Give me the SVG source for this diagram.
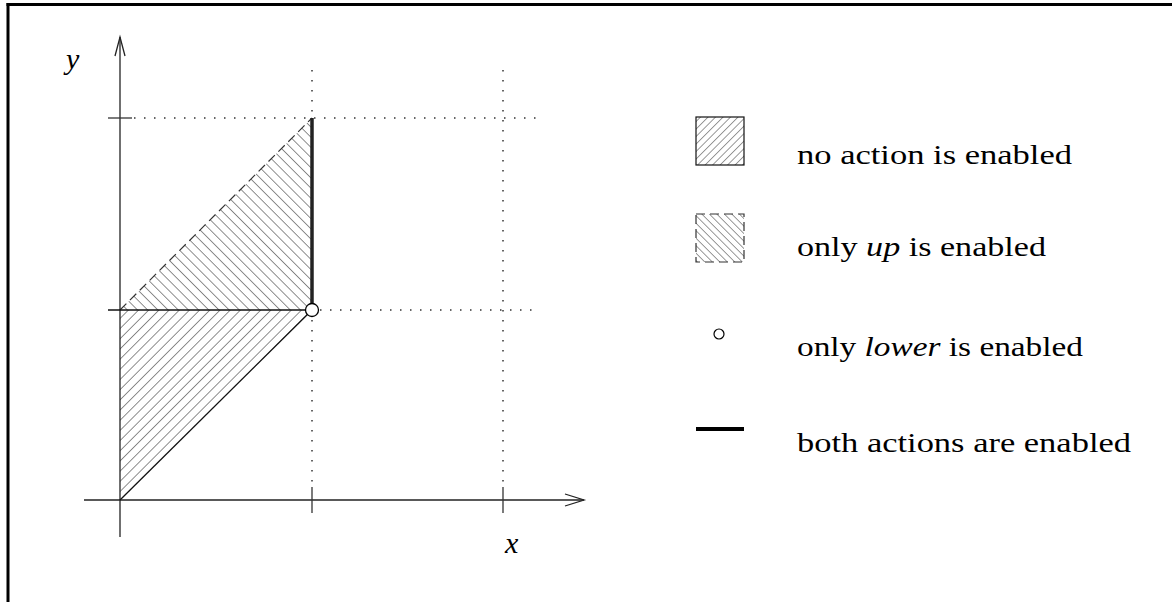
<svg xmlns="http://www.w3.org/2000/svg" width="1172" height="602" viewBox="0 0 1172 602">
  <defs>
    <pattern id="hatchFwd" patternUnits="userSpaceOnUse" width="7.2" height="7.2" patternTransform="rotate(45)">
      <line x1="0" y1="0" x2="0" y2="7.2" stroke="#444" stroke-width="1.2"/>
    </pattern>
    <pattern id="hatchBack" patternUnits="userSpaceOnUse" width="7.2" height="7.2" patternTransform="rotate(-45)">
      <line x1="0" y1="0" x2="0" y2="7.2" stroke="#444" stroke-width="1.2"/>
    </pattern>
    <pattern id="hatchFwdS" patternUnits="userSpaceOnUse" width="5.3" height="5.3" patternTransform="rotate(45)">
      <line x1="0" y1="0" x2="0" y2="5.3" stroke="#333" stroke-width="1"/>
    </pattern>
    <pattern id="hatchBackS" patternUnits="userSpaceOnUse" width="5.3" height="5.3" patternTransform="rotate(-45)">
      <line x1="0" y1="0" x2="0" y2="5.3" stroke="#333" stroke-width="1"/>
    </pattern>
  </defs>
  <style>
    .frame { stroke: #000; stroke-width: 3; fill: none; }
    .axis { stroke: #222; stroke-width: 1.3; fill: none; }
    .tick { stroke: #333; stroke-width: 1.3; }
    .dot { stroke: #333; stroke-width: 1.5; stroke-dasharray: 1.5 8.5; fill: none; }
    .edge { stroke: #111; stroke-width: 1.3; fill: none; }
    .dashedge { stroke: #333; stroke-width: 1.2; stroke-dasharray: 9 5; }
    .lbl { font-family: "Liberation Serif", "Tinos", "Noto Serif", "FreeSerif", "Times New Roman", "Times", serif; font-size: 27px; fill: #000; }
    .math { font-family: "Liberation Serif", "Tinos", "Noto Serif", "FreeSerif", "Times New Roman", "Times", serif; font-style: italic; font-size: 30px; fill: #000; }
  </style>
  <rect width="1172" height="602" fill="#fff"/>
  <g id="frame">
    <line class="frame" x1="6.5" y1="4.5" x2="1172" y2="4.5"/>
    <line class="frame" x1="8" y1="3" x2="8" y2="602"/>
  </g>
  <g id="regions">
    <polygon id="region-none" points="120,500 120,310 312,310" fill="url(#hatchFwd)"/>
    <polygon id="region-up" points="120,310 312,310 312,118" fill="url(#hatchBack)"/>
    <line class="dashedge" x1="120" y1="310" x2="312" y2="118" fill="none"/>
  </g>
  <g id="guides">
    <line class="dot" x1="134" y1="118" x2="540" y2="118"/>
    <line class="dot" x1="320" y1="310" x2="540" y2="310"/>
    <line class="dot" x1="312" y1="70" x2="312" y2="487"/>
    <line class="dot" x1="503" y1="70" x2="503" y2="487"/>
  </g>
  <g id="axes">
    <line class="axis" x1="120" y1="37" x2="120" y2="537"/>
    <polyline class="axis" points="115,56 120,37 125,56"/>
    <line class="axis" x1="84" y1="500" x2="584" y2="500"/>
    <polyline class="axis" points="565,494 584,500 565,506"/>
    <line class="tick" x1="108" y1="118" x2="132" y2="118"/>
    <line class="tick" x1="312" y1="487" x2="312" y2="513"/>
    <line class="tick" x1="503" y1="487" x2="503" y2="513"/>
    <text class="math" x="66" y="69">y</text>
    <text class="math" x="505" y="553">x</text>
  </g>
  <g id="boundaries">
    <line class="edge" x1="108" y1="310" x2="312" y2="310"/>
    <line class="edge" x1="120" y1="500" x2="312" y2="310"/>
    <line x1="312" y1="118" x2="312" y2="306" stroke="#222" stroke-width="3.5"/>
    <circle cx="312" cy="310" r="6.5" fill="#fff" stroke="#000" stroke-width="1.3"/>
  </g>
  <g id="legend-none">
    <rect x="696" y="117" width="48" height="48" fill="url(#hatchFwdS)" stroke="#111" stroke-width="1.2"/>
    <text class="lbl" x="797" y="164" textLength="275" lengthAdjust="spacingAndGlyphs">no action is enabled</text>
  </g>
  <g id="legend-up">
    <rect x="696" y="214" width="48" height="48" fill="url(#hatchBackS)" class="dashedge"/>
    <text class="lbl" x="797" y="256" textLength="249" lengthAdjust="spacingAndGlyphs">only <tspan font-style="italic">up</tspan> is enabled</text>
  </g>
  <g id="legend-lower">
    <circle cx="719" cy="334" r="5" fill="#fff" stroke="#000" stroke-width="1.2"/>
    <text class="lbl" x="797" y="356" textLength="286" lengthAdjust="spacingAndGlyphs">only <tspan font-style="italic">lower</tspan> is enabled</text>
  </g>
  <g id="legend-both">
    <line x1="696" y1="429" x2="744" y2="429" stroke="#000" stroke-width="4"/>
    <text class="lbl" x="797" y="452" textLength="334" lengthAdjust="spacingAndGlyphs">both actions are enabled</text>
  </g>
</svg>
